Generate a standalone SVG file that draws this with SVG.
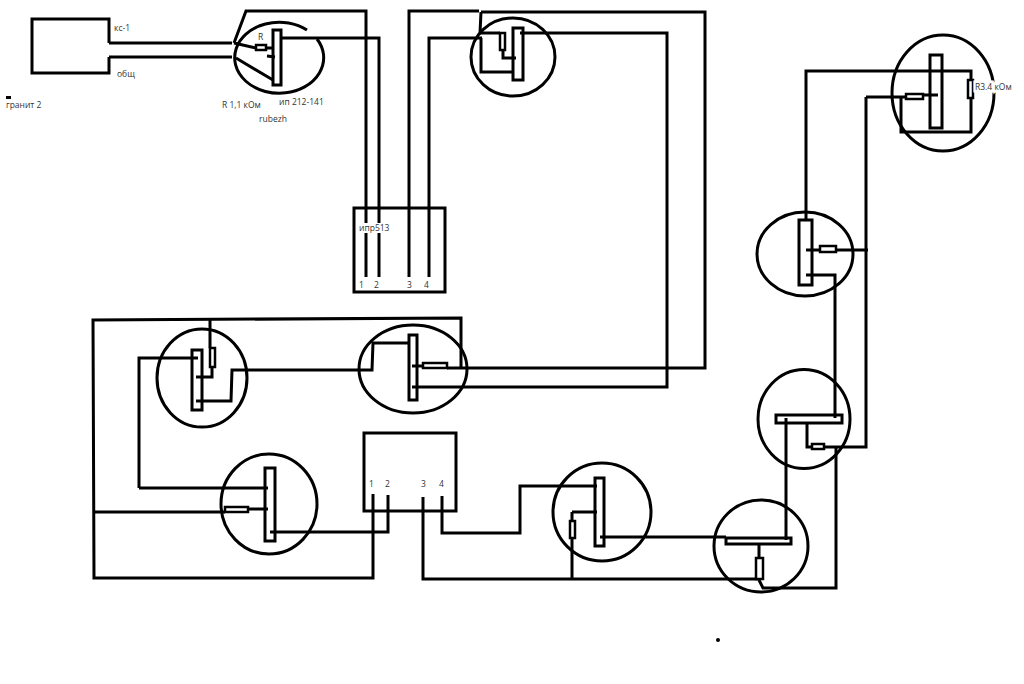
<svg xmlns="http://www.w3.org/2000/svg" width="1024" height="684" viewBox="0 0 1024 684">
<style>
.w{fill:none;stroke:#000;stroke-width:3;stroke-linejoin:miter}
.c{fill:none;stroke:#000;stroke-width:3}
.b{fill:none;stroke:#000;stroke-width:3}
.r{fill:#fff;stroke:#000;stroke-width:2.5}
text{font-family:"Open Sans","Liberation Sans",sans-serif;font-size:8.500px;fill:#333}
.h{paint-order:stroke;stroke:#fff;stroke-width:5px}
</style>
<rect width="1024" height="684" fill="#fff"/>
<g id="connectors" class="w">
<path class="w" d="M109 43H232M109 57H232"/>
<path class="w" d="M234 43L246 11H366V277"/>
<path class="w" d="M281 38H379V277"/>
<path class="w" d="M234 43L256 48M266 48H273M267 56L275 57M236 58L273 80"/>
<path class="w" d="M409 277V11H479"/>
<path class="w" d="M429 277V38H482"/>
<path class="w" d="M481 12H705V368H447"/>
<path class="w" d="M481 12L480 33H500M481 38V72H514"/>
<path class="w" d="M503 50V58H516"/>
<path class="w" d="M520 33H667V387H412"/>
<path class="w" d="M806 220V71H971V80M971 98V132H901V97"/>
<path class="w" d="M866 97H906M923 95H938"/>
<path class="w" d="M866 97V447H824M812 447H807V423"/>
<path class="w" d="M806 250H820M836 250H868"/>
<path class="w" d="M806 275H835V418"/>
<path class="w" d="M836 447V588H763L759 580"/>
<path class="w" d="M786 418V540"/>
<path class="w" d="M759 544V558M759 579H572M572 512V579M572 512H597"/>
<path class="w" d="M423 497V579H572"/>
<path class="w" d="M442 496V533H520V486H597"/>
<path class="w" d="M600 537H726"/>
<path class="w" d="M373 494V578H94L93 320L461 318V368"/>
<path class="w" d="M388 495V532H270"/>
<path class="w" d="M94 512H225M248 509H268"/>
<path class="w" d="M139 488H268M139 488V358H198"/>
<path class="w" d="M210 318V348M212 367V377H196"/>
<path class="w" d="M196 401H231L232 370H372L373 343H409"/>
<path class="w" d="M412 366H423"/>
</g>
<g id="granit"><path class="b" d="M109 43V19H32V73H109V57"/><rect x="6" y="96" width="5" height="3" fill="#000"/><text x="6" y="108">гранит 2</text><text x="114" y="31">кс-1</text><text x="117" y="77">общ</text></g>
<g id="detector-1"><path class="c" d="M317 39A44.500 35.500 0 1 1 307 30"/><rect class="b" x="273" y="30" width="8" height="55"/><rect class="r" x="256" y="45" width="10" height="5"/><text x="258" y="40">R</text><text x="222" y="108">R 1,1 кОм</text><text x="279" y="105">ип 212-141</text><text x="259" y="122">rubezh</text></g>
<g id="ipr513"><rect class="b" x="354" y="208" width="91" height="84"/><rect x="359" y="223" width="30" height="10" fill="#fff"/><text x="359" y="231">ипр513</text><text x="359" y="288">1</text><text x="374" y="288">2</text><text x="407" y="288">3</text><text x="424" y="288">4</text></g>
<g id="detector-2"><ellipse class="c" cx="513" cy="57" rx="42" ry="39"/><rect class="b" x="513" y="28" width="10" height="52"/><rect class="r" x="500" y="33" width="5" height="17"/></g>
<g id="detector-3"><ellipse class="c" cx="943" cy="93" rx="51" ry="58"/><rect class="b" x="930" y="55" width="12" height="73"/><rect class="r" x="906" y="94" width="17" height="5"/><rect class="r" x="968" y="80" width="5" height="18"/><text class="h" x="975" y="90">R3.4 кОм</text></g>
<g id="detector-4"><ellipse class="c" cx="805" cy="254" rx="48" ry="42"/><rect class="b" x="799" y="220" width="13" height="65"/><rect class="r" x="820" y="246" width="16" height="6"/></g>
<g id="detector-5"><ellipse class="c" cx="804" cy="419" rx="46" ry="49.500"/><rect class="b" x="776" y="415" width="66" height="8"/><rect class="r" x="812" y="444" width="12" height="5"/></g>
<g id="detector-6"><ellipse class="c" cx="761" cy="546" rx="47" ry="46"/><rect class="b" x="726" y="538" width="65" height="6"/><rect class="r" x="756" y="558" width="7" height="21"/></g>
<g id="detector-7"><ellipse class="c" cx="602" cy="512" rx="49" ry="49"/><rect class="b" x="595" y="478" width="9" height="68"/><rect class="r" x="570" y="521" width="5" height="17"/></g>
<g id="detector-8"><ellipse class="c" cx="413" cy="369" rx="54" ry="44"/><rect class="b" x="409" y="335" width="8" height="65"/><rect class="r" x="423" y="363" width="24" height="5"/></g>
<g id="detector-9"><ellipse class="c" cx="202" cy="378" rx="45" ry="49"/><rect class="b" x="192" y="350" width="10" height="60"/><rect class="r" x="210" y="348" width="5" height="19"/></g>
<g id="detector-10"><ellipse class="c" cx="269" cy="504" rx="48" ry="50"/><rect class="b" x="265" y="468" width="10" height="73"/><rect class="r" x="225" y="507" width="23" height="5"/></g>
<g id="panel"><rect class="b" x="364" y="433" width="92" height="78"/><text x="369" y="487">1</text><text x="385" y="487">2</text><text x="421" y="487">3</text><text x="439" y="487">4</text></g>
<circle cx="718" cy="640" r="2" fill="#000"/>
</svg>
